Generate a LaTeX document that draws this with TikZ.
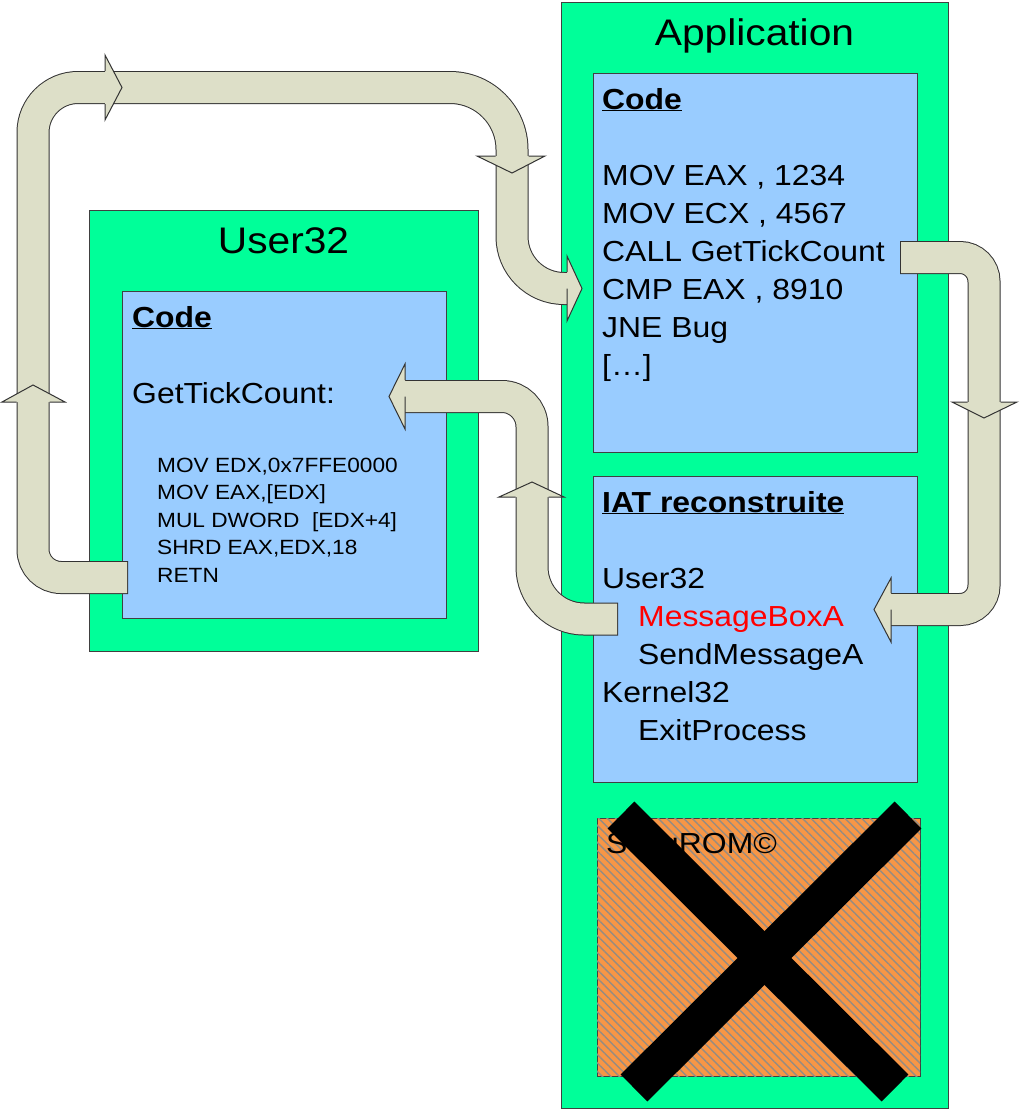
\documentclass[tikz,border=0pt]{standalone}
\usepackage{fontspec}
\setmainfont[FakeStretch=1.1]{Liberation Sans}
\usetikzlibrary{patterns.meta}

\definecolor{modgreen}{RGB}{0,255,153}
\definecolor{codeblue}{RGB}{153,204,255}
\definecolor{bandbeige}{RGB}{221,223,200}
\definecolor{secorange}{RGB}{247,150,70}
\definecolor{hatchgray}{RGB}{150,140,130}

\newcommand\titlesize{\fontsize{37}{44}\selectfont}
\newcommand\linesize{\fontsize{29}{38}\selectfont}
\newcommand\smallsize{\fontsize{20.6}{27.5}\selectfont}

\newcommand\band[2]{%
  \draw[bandout, rounded corners=#1] #2;
  \draw[bandin, rounded corners=#1] #2;}
\newcommand\bandhead[5]{%
  \fill[bandbeige] #2 -- #3 -- #4 -- cycle;
  \draw[headline] #1 -- #2 -- #3 -- #4 -- #5;}

\begin{document}
\begin{tikzpicture}[x=1pt, y=-1pt,
    box/.style={draw=black!75, line width=0.8pt, inner sep=0pt, outer sep=0pt},
    modbox/.style={box, fill=modgreen},
    codebox/.style={box, fill=codeblue},
    txt/.style={anchor=base west, inner sep=0pt, font=\linesize},
    smalltxt/.style={anchor=base west, inner sep=0pt, font=\smallsize},
    title/.style={anchor=base, inner sep=0pt, font=\titlesize},
    bandout/.style={line width=33pt, draw=black!80},
    bandin/.style={line width=31pt, draw=bandbeige, shorten <=1pt},
    headline/.style={draw=black!80, line width=1pt, line join=miter}]
    \useasboundingbox (0,0) rectangle (1024,1119);

    \node[modbox, minimum width=387pt, minimum height=1106pt] (app) at (754.5,555) {};
    \node[codebox, minimum width=324pt, minimum height=379pt] (appcode) at (755,262.5) {};
    \node[codebox, minimum width=324pt, minimum height=306pt] (iat) at (755,629) {};
    \node[box, fill=secorange, postaction={pattern={Lines[angle=-45, distance=6pt, line width=1.4pt]}, pattern color=hatchgray},
        minimum width=323pt, minimum height=258pt] (securom) at (758.5,947) {};

    \node[modbox, minimum width=389pt, minimum height=441pt] (user32) at (283.5,430.5) {};
    \node[codebox, minimum width=324pt, minimum height=327pt] (u32code) at (284,454.5) {};

    \node[title] (apptitle) at (754.5,45) {Application};
    \node[title] (u32title) at (283.5,253) {User32};

    \node[txt] (appcodehead) at (602,109) {\underline{\textbf{Code}}};
    \foreach \txt [count=\i] in {{MOV EAX , 1234},{MOV ECX , 4567},{CALL GetTickCount},{CMP EAX , 8910},{JNE Bug},{[…]}}
        \node[txt] (appline\i) at (602,147+38*\i) {\txt};

    \node[txt] (iathead) at (602,512) {\underline{\textbf{IAT reconstruite}}};
    \node[txt] (iatuser) at (602,588) {User32};
    \node[txt, text=red] (msgbox) at (638,626) {MessageBoxA};
    \node[txt] (sendmsg) at (638,664) {SendMessageA};
    \node[txt] (kernel) at (602,702) {Kernel32};
    \node[txt] (exitproc) at (638,740) {ExitProcess};

    \node[txt] (u32codehead) at (132,327) {\underline{\textbf{Code}}};
    \node[txt] (gettick) at (132,403) {GetTickCount:};
    \foreach \txt [count=\i] in {{MOV EDX,0x7FFE0000},{MOV EAX,[EDX]},{MUL DWORD\ \ [EDX+4]},{SHRD EAX,EDX,18},{RETN}}
        \node[smalltxt] (u32line\i) at (157,444.5+27.5*\i) {\txt};

    \node[txt] (secutext) at (606,853) {SecuROM©};

    \coordinate (u32ret) at (128,577.5);
    \coordinate (codein) at (567,288.5);
    \coordinate (callout) at (900,257.5);
    \coordinate (msgin) at (891,609.5);
    \coordinate (msgout) at (618,619);
    \coordinate (tickin) at (405,396.5);

    \band{28pt}{(u32ret) -- (33,577.5) [rounded corners=45pt] -- (33,87.5) [rounded corners=62pt] -- (512,87.5) [rounded corners=52pt] -- (512,288.5) -- (codein)}
    \band{24pt}{(callout) -- (984,257.5) -- (984,609.5) -- (msgin)}
    \band{52pt}{(msgout) -- (532,619) [rounded corners=30pt] -- (532,396.5) -- (tickin)}

    \bandhead{(16.5,402)}{(2,402)}{(33,385)}{(65,402)}{(49.5,402)}
    \bandhead{(105,71)}{(105,55)}{(122,87.5)}{(105,120)}{(105,104)}
    \bandhead{(495.5,156)}{(477,156)}{(512,173)}{(545,156)}{(528.5,156)}
    \bandhead{(codein)++(0,-16.5)}{(567,256)}{(582,288.5)}{(567,321)}{(codein)++(0,16.5)}
    \bandhead{(967.5,402)}{(952,402)}{(984,418)}{(1017,402)}{(1000.5,402)}
    \bandhead{(msgin)++(0,-16.5)}{(891,578)}{(874,609.5)}{(891,642)}{(msgin)++(0,16.5)}
    \bandhead{(515.5,497)}{(499,497)}{(532,482)}{(564,497)}{(548.5,497)}
    \bandhead{(tickin)++(0,-16.5)}{(405,364)}{(389,396.5)}{(405,429)}{(tickin)++(0,16.5)}

    \draw[line width=38pt] (621,815) -- (895,1088);
    \draw[line width=38pt] (908,815) -- (634,1088);
\end{tikzpicture}
\end{document}
